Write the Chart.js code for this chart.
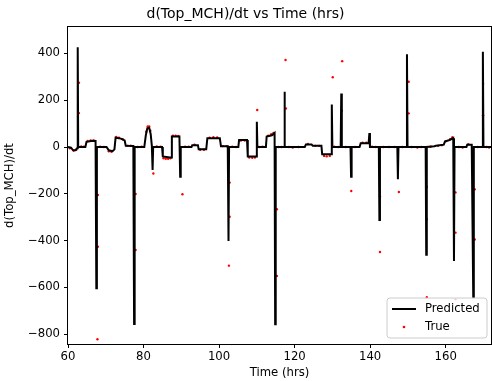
<!DOCTYPE html>
<html>
<head>
<meta charset="utf-8">
<script src="https://cdn.jsdelivr.net/npm/chart.js@4/dist/chart.umd.min.js"></script>
<style>
html,body{margin:0;padding:0;background:#fff;}
canvas{display:block;}
</style>
</head>
<body>
<canvas id="c" width="492" height="381"></canvas>
<script>
// ---- Data ----
const chartTitle = "d(Top_MCH)/dt vs Time (hrs)";
const xAxisLabel = "Time (hrs)";
const yAxisLabel = "d(Top_MCH)/dt";
const seriesNames = ["Predicted", "True"];

// Predicted series (time in hrs, derivative value)
const predX = [60.0,60.8,61.3,62.0,62.4,62.55,62.6,62.7,64.6,64.9,66.5,67.3,67.5,67.65,70.2,70.8,71.8,72.3,72.6,74.0,75.0,75.3,77.3,77.5,77.65,80.2,80.6,81.0,81.5,81.9,82.2,82.4,82.55,84.9,85.1,87.0,87.3,87.5,89.5,89.7,89.85,92.7,92.9,94.4,94.6,96.6,96.9,100.2,100.5,102.3,102.5,102.65,105.1,105.3,107.4,107.6,109.8,110.0,110.15,112.4,112.6,114.0,114.7,114.85,115.0,117.2,117.3,117.45,122.7,123.0,124.5,124.8,127.1,127.3,129.7,129.85,130.0,132.2,132.35,132.5,134.8,134.95,135.1,137.2,137.5,139.6,139.8,139.95,142.3,142.45,142.6,147.2,147.35,147.5,149.6,149.75,149.9,154.7,154.85,155.0,157.0,157.4,159.5,159.8,161.0,162.0,162.2,162.35,165.5,165.7,166.9,167.3,167.45,169.7,169.85,170.0,172.0];
const predY = [0,-3,-13,-14,-5,0,426,0,0,22,27,26,-604,0,0,-14,-18,-10,40,36,28,5,4,-756,0,0,50,80,82,55,5,-98,0,0,-40,-45,-45,45,45,-127,0,0,8,8,-10,-10,38,38,3,3,-402,0,0,30,30,-41,-41,108,0,0,45,50,60,-758,0,0,236,0,0,11,11,5,5,-31,-31,182,0,0,229,0,0,-127,0,0,16,16,60,0,0,-312,0,0,-138,0,0,397,0,0,-460,0,3,5,10,23,30,38,-487,0,0,10,10,-642,0,0,407,0,0];

// True series (scattered measurements)
const trueX = [60.5,61.5,62.2,62.9,62.9,63.5,64.2,65.2,66.0,66.8,67.9,67.9,67.8,68.5,69.5,70.8,71.5,72.8,73.5,74.5,75.8,76.6,77.9,77.9,78.5,79.5,80.7,81.1,81.5,81.8,82.6,83.5,84.5,85.3,85.9,86.5,87.1,87.8,88.5,89.2,90.3,91.0,92.0,93.5,95.0,96.0,97.5,98.5,99.5,101.0,102.0,102.8,102.8,102.6,103.5,104.5,105.8,106.8,108.0,108.8,109.5,110.1,110.6,111.5,113.0,113.8,114.4,115.3,115.3,115.8,116.5,117.6,117.7,118.5,119.5,121.0,123.5,125.5,126.5,127.8,128.5,129.3,130.1,130.5,131.5,132.6,132.5,133.5,135.0,136.0,138.0,139.0,140.5,141.5,142.6,142.6,143.5,145.0,146.5,147.6,148.5,150.2,150.2,151.0,152.5,153.5,155.0,155.0,155.0,156.0,158.0,159.0,160.0,161.2,161.8,162.6,162.6,162.6,163.5,164.5,166.0,167.7,167.7,168.5,169.9,169.9,170.8,171.5];
const trueY = [-5,-16,-12,275,145,2,1,26,28,28,-205,-426,-822,1,0,-18,-20,43,40,33,6,6,-201,-440,0,1,65,88,88,70,-113,2,1,-48,-50,-50,-48,48,48,47,-202,1,1,10,-12,-12,40,42,41,4,4,-152,-298,-507,1,0,28,28,-45,-46,-45,158,0,1,48,55,60,-266,-551,0,0,372,165,0,-2,0,13,5,5,-38,-40,-38,298,1,0,367,155,0,-188,0,18,18,1,0,-212,-449,0,0,0,-192,0,279,144,0,-2,0,-170,-309,-642,1,5,8,25,33,42,-194,-366,-651,0,-2,12,-181,-395,0,270,136,0,-2];

// Axis limits and tick spacing
const xMin = 60, xMax = 172, xStep = 20;
const yMin = -842, yMax = 513, yStep = 200;

// ---- Chart ----
const FONT = "'DejaVu Sans', sans-serif";
const fmt = v => (v < 0 ? "\u2212" + Math.abs(v) : String(v));
const predData = predX.map((x, i) => ({x: x, y: predY[i]}));
const trueData = trueX.map((x, i) => ({x: x, y: trueY[i]}));

// plot-area right edge, as in the reference
const plotRight = 491;
const fixArea = {
  id: 'fixArea',
  afterLayout(chart) {
    const ca = chart.chartArea;
    ca.right = plotRight;
    ca.width = plotRight - ca.left;
    const x = chart.scales.x;
    x.right = plotRight;
    x.width = plotRight - x.left;
    x.configure();
    x._labelItems = null;
    x._gridLineItems = null;
  }
};

const frame = {
  id: 'frame',
  afterDatasetsDraw(chart) {
    const {ctx, chartArea: a} = chart;
    ctx.save();
    ctx.strokeStyle = '#000';
    ctx.lineWidth = 1;
    ctx.strokeRect(Math.round(a.left) - 0.5, Math.round(a.top) - 0.5,
                   Math.round(a.right - a.left) + 1, Math.round(a.bottom - a.top) + 1);
    ctx.restore();
  }
};

const mplLegend = {
  id: 'mplLegend',
  afterDraw(chart) {
    const {ctx, chartArea: a} = chart;
    const ds = chart.data.datasets;
    const w = 100, h = 40;
    const right = a.right - 4, bottom = a.bottom - 6;
    const left = right - w, top = bottom - h;
    ctx.save();
    const r = 3;
    ctx.beginPath();
    ctx.moveTo(left + r, top);
    ctx.lineTo(right - r, top);
    ctx.quadraticCurveTo(right, top, right, top + r);
    ctx.lineTo(right, bottom - r);
    ctx.quadraticCurveTo(right, bottom, right - r, bottom);
    ctx.lineTo(left + r, bottom);
    ctx.quadraticCurveTo(left, bottom, left, bottom - r);
    ctx.lineTo(left, top + r);
    ctx.quadraticCurveTo(left, top, left + r, top);
    ctx.closePath();
    ctx.fillStyle = 'rgba(255,255,255,0.8)';
    ctx.fill();
    ctx.strokeStyle = '#cccccc';
    ctx.lineWidth = 1;
    ctx.stroke();
    const y1 = top + 11, y2 = top + 29;
    ctx.strokeStyle = ds[0].borderColor;
    ctx.lineWidth = 2;
    ctx.beginPath();
    ctx.moveTo(left + 5, y1);
    ctx.lineTo(left + 29, y1);
    ctx.stroke();
    ctx.fillStyle = ds[1].backgroundColor;
    ctx.beginPath();
    ctx.arc(left + 17, y2, 1.3, 0, Math.PI * 2);
    ctx.fill();
    ctx.fillStyle = '#000';
    ctx.font = "11.67px " + FONT;
    ctx.textBaseline = 'middle';
    ctx.textAlign = 'left';
    ctx.fillText(ds[0].label, left + 38, y1);
    ctx.fillText(ds[1].label, left + 38, y2);
    ctx.restore();
  }
};

new Chart(document.getElementById('c'), {
  data: {
    datasets: [
      {type: 'line', label: seriesNames[0], data: predData, borderColor: '#000000', backgroundColor: '#000000',
       borderWidth: 2, pointRadius: 0, tension: 0, fill: false},
      {type: 'scatter', label: seriesNames[1], data: trueData, backgroundColor: '#ff0000', borderColor: '#ff0000',
       borderWidth: 0, pointRadius: 1.2}
    ]
  },
  options: {
    responsive: false,
    devicePixelRatio: 1,
    animation: false,
    events: [],
    layout: {padding: {left: 0, right: 1, top: 0, bottom: 0}},
    plugins: {
      legend: {display: false},
      tooltip: {enabled: false},
      title: {display: true, text: chartTitle, color: '#000',
              font: {family: FONT, size: 14, weight: 'normal'}, padding: {top: 6, bottom: 4.2}}
    },
    scales: {
      x: {
        type: 'linear', position: 'bottom', min: xMin, max: xMax,
        afterFit(s) { s.height = 37; },
        border: {display: false},
        grid: {drawOnChartArea: false, drawTicks: true, tickLength: 4, tickColor: '#000'},
        ticks: {stepSize: xStep, includeBounds: false, color: '#000', padding: 2, maxRotation: 0, autoSkip: false,
                font: {family: FONT, size: 11.67}, callback: v => fmt(v)},
        title: {display: true, text: xAxisLabel, color: '#000', font: {family: FONT, size: 11.67}, padding: {top: 0, bottom: 1}}
      },
      y: {
        type: 'linear', position: 'left', min: yMin, max: yMax,
        afterFit(s) { s.width = 68; },
        border: {display: false},
        grid: {drawOnChartArea: false, drawTicks: true, tickLength: 4, tickColor: '#000'},
        ticks: {stepSize: yStep, includeBounds: false, color: '#000', padding: 4, autoSkip: false,
                font: {family: FONT, size: 11.67}, callback: v => fmt(v)},
        title: {display: true, text: yAxisLabel, color: '#000', font: {family: FONT, size: 11.67}, padding: {top: 3, bottom: 0}}
      }
    }
  },
  plugins: [fixArea, frame, mplLegend]
});
</script>
</body>
</html>
